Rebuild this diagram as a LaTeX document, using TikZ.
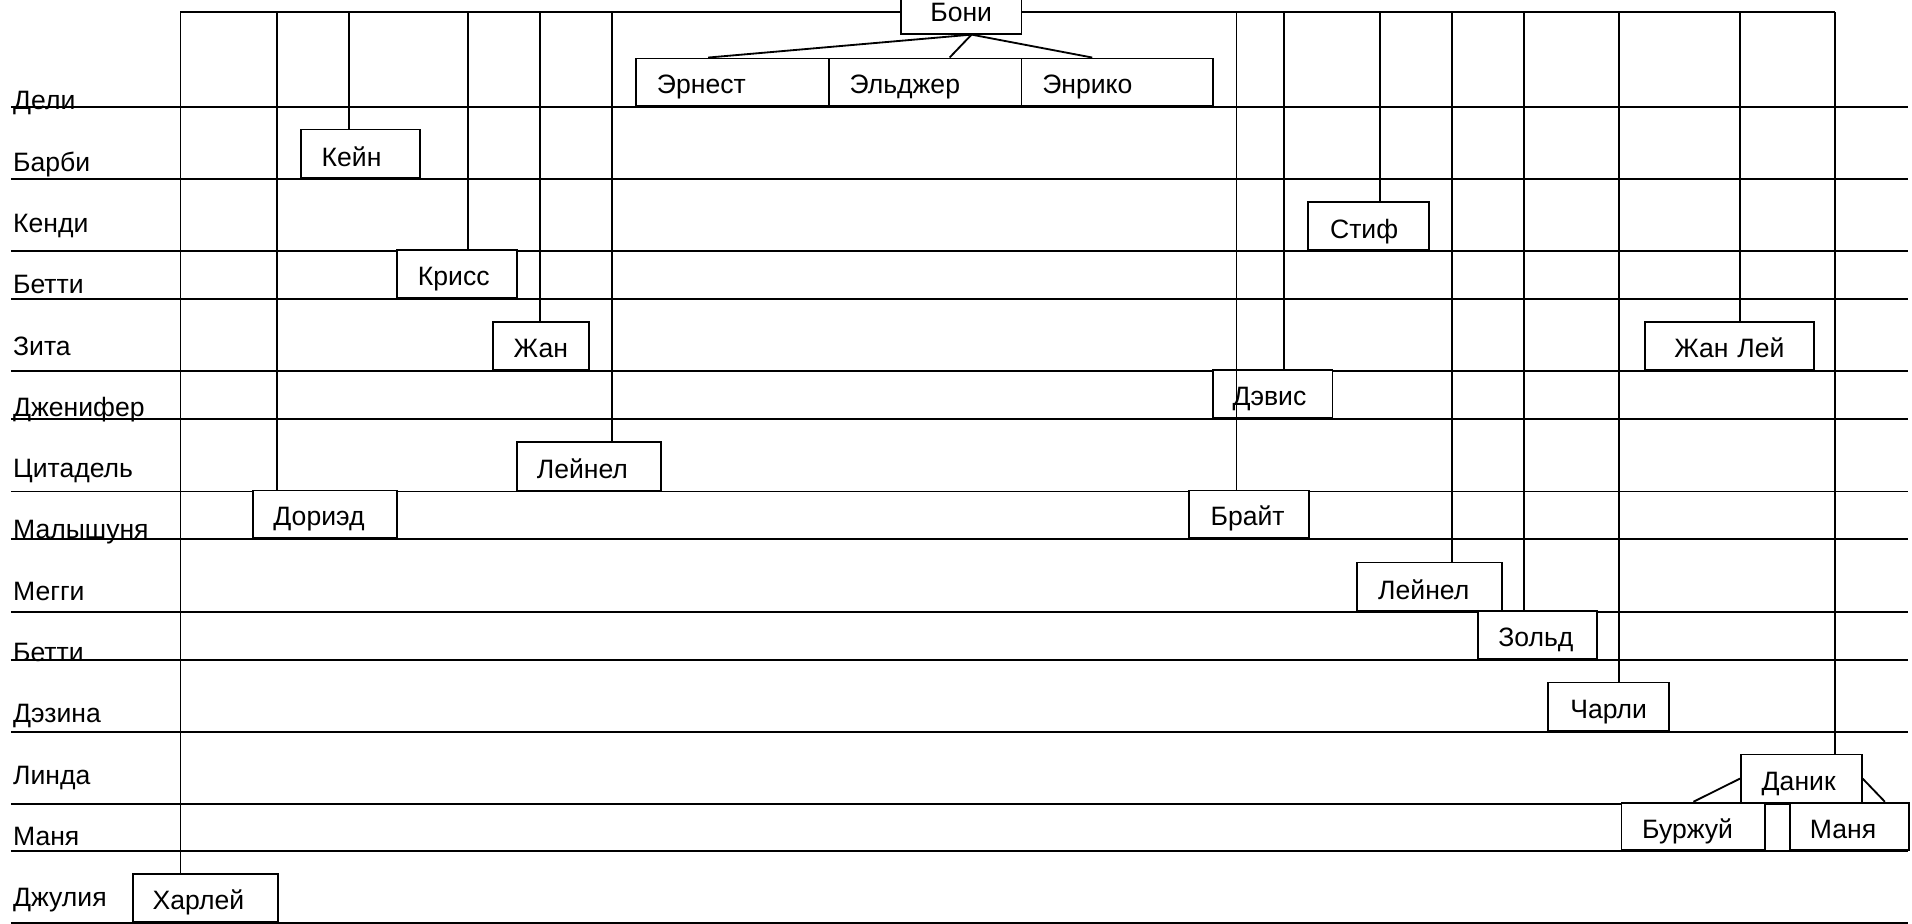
\documentclass[tikz,border=0pt]{standalone}
\usepackage{fontspec}
\setmainfont{Liberation Sans}
\begin{document}
\begin{tikzpicture}[x=1pt,y=-1pt,line width=1.5pt,
  font=\fontsize{21.8}{26}\selectfont,
  rowline/.style={line width=1.5pt},
  link/.style={line width=1.5pt},
  rowlab/.style={anchor=base west, inner sep=0pt},
  pbox/.style 2 args={draw, fill=white, line width=1.5pt, anchor=south west,
    inner xsep=0pt, inner ysep=0pt, align=left,
    text width=#1pt, text height=#2pt, text depth=10pt}]
\useasboundingbox (0,0) rectangle (1568,757);

% row labels
\foreach \t [count=\i from 0] in {Дели,Барби,Кенди,Бетти,Зита,Дженифер,Цитадель,Малышуня,Мегги,Бетти,Дэзина,Линда,Маня,Джулия}
  \node[rowlab] (lab\i) at (10,{90.2+50.25*\i}) {\t};

% horizontal row lines
\foreach \y [count=\i] in {87.5,147,206,245,304,343.5,403,442,502,541,600,659,698,757}{
  \coordinate (hl\i) at (9,\y);
  \coordinate (hr\i) at (1565,\y);
  \draw[rowline] (hl\i) -- (hr\i);
}

% top line
\foreach \x [count=\i] in {148,227,286,384,443,502,1014,1053,1132,1191,1250,1328,1427,1505}
  \coordinate (v\i) at (\x,10);
\draw[rowline] (v1) -- (v14);

% boxes
\node[pbox={99}{30}, align=center] (boni) at (738,28.4) {Бони};
\node[pbox={158}{28.8}] (ernest) at (521,87.5) {\hspace*{17pt}Эрнест};
\node[pbox={158}{28.8}] (eldzher) at (679,87.5) {\hspace*{17pt}Эльджер};
\node[pbox={157}{28.8}] (enrico) at (837,87.5) {\hspace*{17pt}Энрико};
\node[pbox={98}{30}] (kein) at (246,147) {\hspace*{17pt}Кейн};
\node[pbox={99}{29.5}] (stif) at (1072,206) {\hspace*{18pt}Стиф};
\node[pbox={98}{29}] (kriss) at (325,245) {\hspace*{17pt}Крисс};
\node[pbox={78.5}{29}] (zhan) at (403.5,304) {\hspace*{17pt}Жан};
\node[pbox={139}{29}, align=center] (zhanlei) at (1348,304) {Жан Лей};
\node[pbox={98}{29.5}] (devis) at (994,343.5) {\hspace*{16pt}Дэвис};
\node[pbox={118}{30}] (leinelA) at (423,403) {\hspace*{16.5pt}Лейнел};
\node[pbox={118}{29}] (dorid) at (207,442) {\hspace*{16.5pt}Дориэд};
\node[pbox={98.5}{29}] (brait) at (974.5,442) {\hspace*{17.5pt}Брайт};
\node[pbox={119}{30}] (leinelB) at (1112,502) {\hspace*{17.5pt}Лейнел};
\node[pbox={98}{29}] (zold) at (1211,541) {\hspace*{17pt}Зольд};
\node[pbox={99}{29.5}] (charli) at (1269,600) {\hspace*{18pt}Чарли};
\node[pbox={99}{29.5}] (danik) at (1427,659) {\hspace*{17pt}Даник};
\node[pbox={118}{29}] (burzhui) at (1329,698) {\hspace*{17pt}Буржуй};
\node[pbox={98}{29}] (manya) at (1467,698) {\hspace*{16.5pt}Маня};
\node[pbox={119}{29.5}] (harlei) at (108,757) {\hspace*{16.5pt}Харлей};

% vertical connectors
\draw[link] (v1) -- (v1 |- harlei.north);
\draw[link] (v2) -- (v2 |- dorid.north);
\draw[link] (v3) -- (v3 |- kein.north);
\draw[link] (v4) -- (v4 |- kriss.north);
\draw[link] (v5) -- (v5 |- zhan.north);
\draw[link] (v6) -- (v6 |- leinelA.north);
\draw[link] (v7) -- (v7 |- brait.north);
\draw[link] (v8) -- (v8 |- devis.north);
\draw[link] (v9) -- (v9 |- stif.north);
\draw[link] (v10) -- (v10 |- leinelB.north);
\draw[link] (v11) -- (v11 |- zold.north);
\draw[link] (v12) -- (v12 |- charli.north);
\draw[link] (v13) -- (v13 |- zhanlei.north);
\draw[link] (v14) -- (v14 |- danik.north);

% Boni to children
\draw[link] ([xshift=8.5pt]boni.south) -- ([xshift=-20pt]ernest.north);
\draw[link] ([xshift=8.5pt]boni.south) -- ([xshift=20pt]eldzher.north);
\draw[link] ([xshift=8.5pt]boni.south) -- ([xshift=-20.5pt]enrico.north);

% Danik to children
\draw[link] (danik.west) -- (burzhui.north);
\draw[link] (danik.east) -- ([xshift=29pt]manya.north);
\end{tikzpicture}
\end{document}
